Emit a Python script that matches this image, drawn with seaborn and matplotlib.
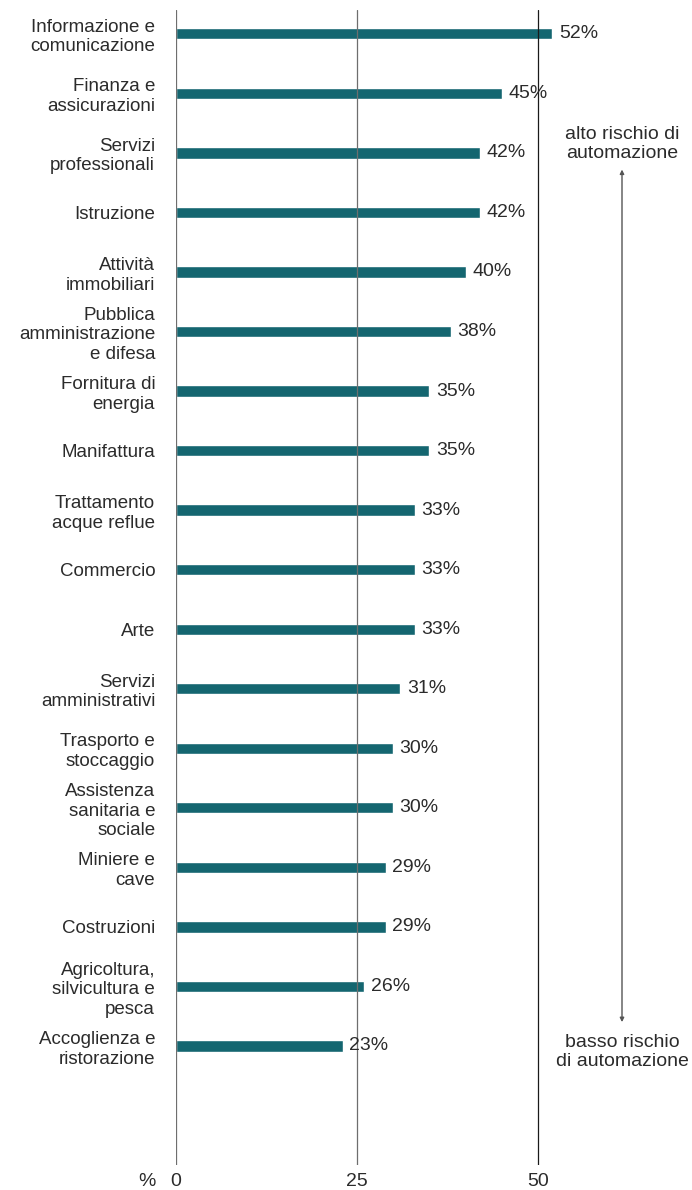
import matplotlib
matplotlib.use("Agg")
import matplotlib.pyplot as plt
import seaborn as sns
import pandas as pd

# Sectors and share of jobs at high risk of automation (%)
settori = [
    "Informazione e\ncomunicazione",
    "Finanza e\nassicurazioni",
    "Servizi\nprofessionali",
    "Istruzione",
    "Attività\nimmobiliari",
    "Pubblica\namministrazione\ne difesa",
    "Fornitura di\nenergia",
    "Manifattura",
    "Trattamento\nacque reflue",
    "Commercio",
    "Arte",
    "Servizi\namministrativi",
    "Trasporto e\nstoccaggio",
    "Assistenza\nsanitaria e\nsociale",
    "Miniere e\ncave",
    "Costruzioni",
    "Agricoltura,\nsilvicultura e\npesca",
    "Accoglienza e\nristorazione",
]
rischio = [52, 45, 42, 42, 40, 38, 35, 35, 33, 33, 33, 31, 30, 30, 29, 29, 26, 23]
tick_valori = [0, 25, 50]
tick_etichette = ["0", "25", "50"]

df = pd.DataFrame({"settore": settori, "rischio": rischio})

sns.set_theme(style="white")
plt.rcParams["font.family"] = ["Liberation Sans", "DejaVu Sans"]

W, H = 692, 1190
fig = plt.figure(figsize=(W / 100, H / 100), dpi=100)
ax = fig.add_axes([176 / W, (H - 1165) / H, 1 - 176 / W, 1155 / H])

BAR = "#146670"
TXT = "#2b2b2b"

sns.barplot(data=df, x="rischio", y="settore", orient="h", color=BAR,
            width=0.19, saturation=1, ax=ax, zorder=2)

ax.set_xlim(0, (W - 176) / 7.24)
ax.set_ylim(19.0, -0.4)

# vertical reference lines
for v, c in zip(tick_valori, ["#6e6e6e", "#6e6e6e", "#1a1a1a"]):
    ax.axvline(v, color=c, lw=0.9, zorder=3)

# value labels
for i, v in enumerate(rischio):
    ax.text(v + 0.9, i, f"{v}%", va="center", ha="left",
            fontsize=14, color=TXT, zorder=4)

ax.set_xticks(tick_valori)
ax.set_xticklabels(tick_etichette, fontsize=14, color=TXT)
ax.tick_params(axis="x", length=0, pad=6)
ax.tick_params(axis="y", length=0, pad=15, labelsize=13.5, labelcolor=TXT)
for lbl in ax.get_yticklabels():
    lbl.set_multialignment("right")
    lbl.set_linespacing(1.2)
ax.set_xlabel("")
ax.set_ylabel("")
for s in ax.spines.values():
    s.set_visible(False)

# unit marker beside the x tick labels
ax.annotate("%", xy=(0, 0), xycoords="axes fraction", xytext=(-20, -8),
            textcoords="offset pixels", ha="right", va="top",
            fontsize=14, color=TXT, annotation_clip=False)

# risk direction arrow
xa = (622 - 176) / 7.24
ax.annotate("", xy=(xa, 2.28), xytext=(xa, 16.6),
            arrowprops=dict(arrowstyle="<|-|>", color="#555555", lw=1.0,
                            mutation_scale=6, shrinkA=0, shrinkB=0))
ax.text(xa, 1.85, "alto rischio di\nautomazione", ha="center", va="center",
        fontsize=14, color=TXT, linespacing=1.15)
ax.text(xa, 17.1, "basso rischio\ndi automazione", ha="center", va="center",
        fontsize=14, color=TXT, linespacing=1.15)

fig.savefig("out.png", dpi=100)
